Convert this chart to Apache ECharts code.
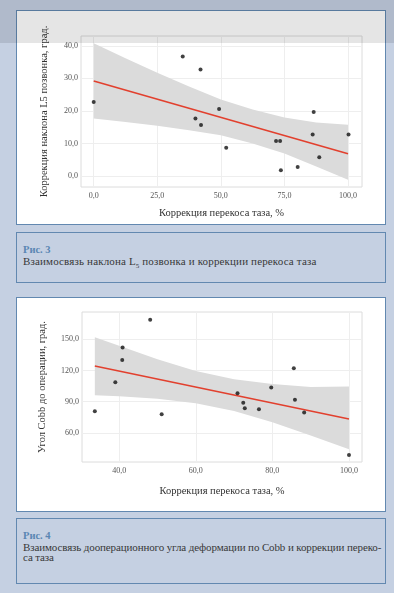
<!DOCTYPE html>
<html>
<head>
<meta charset="utf-8">
<script src="https://cdn.jsdelivr.net/npm/echarts@6.0.0/dist/echarts.min.js"></script>
<style>
  html, body { margin: 0; padding: 0; }
  body { width: 394px; height: 593px; background: #c5d0e2; position: relative; overflow: hidden;
         font-family: "Liberation Serif", "DejaVu Serif", serif; }
  .box { position: absolute; left: 16px; width: 370px; box-sizing: border-box; border: 1px solid #6288b0; }
  .panel { background: #ffffff; }
  .cap { padding: 12px 0 0 6px; color: #383838; font-size: 11px; line-height: 10.5px; white-space: nowrap; }
  .cap b { color: #5a86b3; display: block; font-size: 10.5px; letter-spacing: 0; }
  #chart { position: absolute; left: 0; top: 0; width: 394px; height: 593px; }
  #shade { position: absolute; left: 0; top: 0; width: 394px; height: 43px; background: rgba(0,0,0,0.1); pointer-events: none; }
</style>
</head>
<body>
<div class="box panel" style="top:10px;height:215px;"></div>
<div class="box cap" style="top:232px;height:51px;letter-spacing:0.15px;"><b>Рис. 3</b>Взаимосвязь наклона L<sub style="font-size:7px;line-height:0;">5</sub> позвонка и коррекции перекоса таза</div>
<div class="box panel" style="top:297px;height:215px;"></div>
<div class="box cap" style="top:518px;height:66px;letter-spacing:-0.12px;"><b>Рис. 4</b>Взаимосвязь дооперационного угла деформации по Cobb и коррекции переко-<br>са таза</div>
<div id="chart"></div>
<div id="shade"></div>
<script>
// ---- Figure 3 data ----
const fig3X = [0, 35, 42, 40, 42.2, 49.3, 52.1, 71.7, 73.3, 73.6, 80.2, 86.1, 86.5, 88.7, 100.2];
const fig3Y = [22.8, 36.7, 32.7, 17.7, 15.7, 20.6, 8.7, 10.8, 10.8, 1.8, 2.8, 12.8, 19.7, 5.8, 12.8];
const fig3FitX = [0, 100];
const fig3FitY = [29.2, 6.9];
const fig3BandX = [0, 12.5, 25, 37.5, 50, 62.5, 75, 87.5, 100];
const fig3BandUpper = [40.8, 36.2, 31.7, 27.5, 23.5, 20.5, 18.0, 16.5, 15.8];
const fig3BandLower = [17.7, 16.6, 15.5, 14.1, 12.6, 10.0, 7.0, 3.0, -1.1];
const fig3XTicks = [0, 25, 50, 75, 100];
const fig3YTicks = [0, 10, 20, 30, 40];

// ---- Figure 4 data ----
const fig4X = [33.65, 48.1, 40.9, 40.8, 39.0, 51.1, 70.9, 72.4, 72.8, 76.5, 79.7, 85.6, 85.9, 88.3, 100];
const fig4Y = [80.9, 168.6, 141.9, 130.0, 108.6, 78.0, 98.0, 88.9, 83.8, 82.8, 103.7, 122.1, 91.8, 79.6, 38.8];
const fig4FitX = [33.65, 100];
const fig4FitY = [124.3, 73.5];
const fig4BandX = [33.65, 40, 50, 60, 70, 80, 90, 100];
const fig4BandUpper = [151.9, 143.6, 130.6, 119.4, 111.5, 106.9, 104.2, 104.5];
const fig4BandLower = [96.3, 95.2, 92.8, 88.6, 81.1, 70.3, 57.6, 44.5];
const fig4XTicks = [40, 60, 80, 100];
const fig4YTicks = [60, 90, 120, 150];

const xTitle = 'Коррекция перекоса таза, %';
const fig3YTitle = 'Коррекция наклона L5 позвонка, град.';
const fig4YTitle = 'Угол Cobb до операции, град.';

const FONT = '"Liberation Serif", "DejaVu Serif", serif';
const fmt = v => v.toFixed(1).replace('.', ',');

function zip(a, b) { return a.map((v, i) => [v, b[i]]); }

function makeAxis(type, idx, min, max, ticks, name, nameGap) {
  return {
    type: 'value', gridIndex: idx, min: min, max: max,
    name: name, nameLocation: 'middle', nameGap: nameGap,
    nameRotate: type === 'y' ? 90 : 0,
    nameTextStyle: { fontFamily: FONT, fontSize: 10.5, color: '#333' },
    axisLine: { show: false },
    axisTick: { show: false, customValues: ticks },
    axisLabel: { customValues: ticks, formatter: fmt, fontFamily: FONT, fontSize: 8, color: '#555', margin: type === 'y' ? 3 : 5 },
    splitLine: { show: true, lineStyle: { color: '#eeeeee', width: 1 } }
  };
}

function bandRender(params, api) {
  if (params.dataIndex !== 0) return null;
  const n = params.dataInsideLength;
  const top = [], bottom = [];
  for (let i = 0; i < n; i++) {
    top.push(api.coord([api.value(0, i), api.value(1, i)]));
    bottom.push(api.coord([api.value(0, i), api.value(2, i)]));
  }
  return { type: 'polygon', shape: { points: top.concat(bottom.reverse()) }, style: { fill: '#dbdbdb' }, silent: true };
}

function seriesFor(idx, px, py, fx, fy, bx, bu, bl) {
  return [
    { type: 'custom', xAxisIndex: idx, yAxisIndex: idx, renderItem: bandRender,
      data: bx.map((x, i) => [x, bu[i], bl[i]]), encode: { x: 0, y: [1, 2] }, z: 1, silent: true, clip: false },
    { type: 'line', xAxisIndex: idx, yAxisIndex: idx, data: zip(fx, fy), symbol: 'none',
      lineStyle: { color: '#e2402e', width: 1.6 }, z: 2 },
    { type: 'scatter', xAxisIndex: idx, yAxisIndex: idx, data: zip(px, py), symbol: 'circle', symbolSize: 4,
      itemStyle: { color: '#111111' }, z: 3, clip: false }
  ];
}

const chart = echarts.init(document.getElementById('chart'), null, { renderer: 'canvas' });
chart.setOption({
  animation: false,
  backgroundColor: 'transparent',
  grid: [
    { left: 81, top: 36, width: 281, height: 151, show: true, borderColor: '#dcdcdc', borderWidth: 1, backgroundColor: 'transparent', containLabel: false, outerBoundsMode: 'none' },
    { left: 82, top: 312, width: 280, height: 150, show: true, borderColor: '#dcdcdc', borderWidth: 1, backgroundColor: 'transparent', containLabel: false, outerBoundsMode: 'none' }
  ],
  xAxis: [
    makeAxis('x', 0, -5, 105.5, fig3XTicks, xTitle, 21),
    makeAxis('x', 1, 30.3, 103.4, fig4XTicks, xTitle, 24)
  ],
  yAxis: [
    makeAxis('y', 0, -3.3, 43, fig3YTicks, fig3YTitle, 31),
    makeAxis('y', 1, 32.2, 176, fig4YTicks, fig4YTitle, 34)
  ],
  series: [].concat(
    seriesFor(0, fig3X, fig3Y, fig3FitX, fig3FitY, fig3BandX, fig3BandUpper, fig3BandLower),
    seriesFor(1, fig4X, fig4Y, fig4FitX, fig4FitY, fig4BandX, fig4BandUpper, fig4BandLower)
  )
});
</script>
</body>
</html>
